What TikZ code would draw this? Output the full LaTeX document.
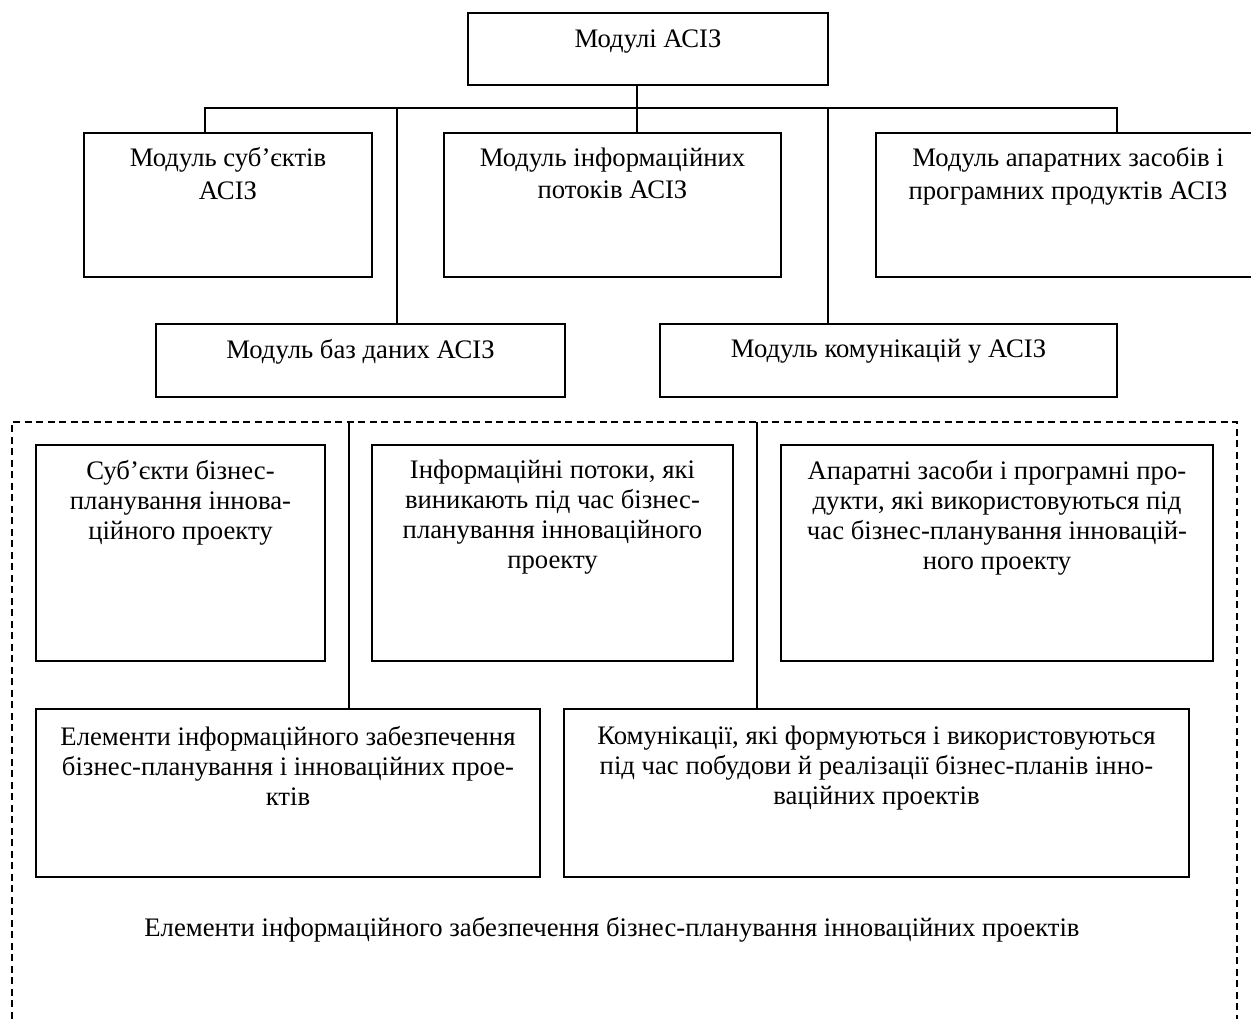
\documentclass[tikz,border=0pt]{standalone}
\usepackage{fontspec}
\setmainfont{Liberation Serif}
\usetikzlibrary{positioning}

\tikzset{
  modbox/.style={draw, rectangle, line width=0.8pt, inner sep=0pt},
  modtext/.style={align=center, inner sep=0pt, font=\fontsize{15.2}{18.5}\selectfont},
  eltext/.style={align=center, inner sep=0pt, font=\fontsize{15.2}{17.1}\selectfont},
  frameline/.style={line width=0.8pt, dash pattern=on 0.14cm off 0.09cm}
}

\begin{document}
\begin{tikzpicture}[x=0.02cm, y=-0.02cm]
      \useasboundingbox (0,0) rectangle (1251,1018);
      \clip (0,0) rectangle (1251,1018);

      % modules
      \node[modbox, minimum width=7.2cm, minimum height=1.44cm] (top) at (648,49) {};
      \node[modbox, minimum width=5.76cm, minimum height=2.88cm] (subj) at (228,205) {};
      \node[modbox, minimum width=6.74cm, minimum height=2.88cm] (info) at (612.5,205) {};
      \node[modbox, minimum width=7.68cm, minimum height=2.88cm] (hw) at (1068,205) {};
      \node[modbox, minimum width=8.18cm, minimum height=1.46cm] (db) at (360.5,360.5) {};
      \node[modbox, minimum width=9.14cm, minimum height=1.46cm] (comm) at (888.5,360.5) {};

      \node[modtext, below=0.34cm of top.north] (topt) {Модулі АСІЗ};
      \node[modtext, below=0.3cm of subj.north] (subjt) {Модуль суб’єктів\\АСІЗ};
      \node[modtext, below=0.3cm of info.north] (infot) {Модуль інформаційних\\потоків АСІЗ};
      \node[modtext, below=0.3cm of hw.north] (hwt) {Модуль апаратних засобів і\\програмних продуктів АСІЗ};
      \node[modtext, below=0.32cm of db.north] (dbt) {Модуль баз даних АСІЗ};
      \node[modtext, below=0.32cm of comm.north] (commt) {Модуль комунікацій у АСІЗ};

      \coordinate (busl) at (205,108);
      \coordinate (busr) at (1117,108);
      \coordinate (stem) at (637,108);
      \coordinate (dbj) at (397,108);
      \coordinate (commj) at (828,108);

      \draw[line width=0.8pt] (busl |- subj.north) -- (busl) -- (busr) -- (busr |- hw.north);
      \draw[line width=0.8pt] (stem |- top.south) -- (stem |- info.north);
      \draw[line width=0.8pt] (dbj) -- (dbj |- db.north);
      \draw[line width=0.8pt] (commj) -- (commj |- comm.north);

      % elements
      \draw[frameline] (12,1030) -- (12,422) -- (1237,422) -- (1237,1030);

      \node[modbox, minimum width=5.78cm, minimum height=4.32cm] (subj2) at (180.5,553) {};
      \node[modbox, minimum width=7.22cm, minimum height=4.32cm] (info2) at (552.5,553) {};
      \node[modbox, minimum width=8.64cm, minimum height=4.32cm] (hw2) at (997,553) {};
      \node[modbox, minimum width=10.08cm, minimum height=3.36cm] (elem) at (288,793) {};
      \node[modbox, minimum width=12.5cm, minimum height=3.36cm] (comm2) at (876.5,793) {};

      \node[eltext, below=0.31cm of subj2.north] (subj2t) {Суб’єкти бізнес-\\планування іннова-\\ційного проекту};
      \node[eltext, below=0.31cm of info2.north] (info2t) {Інформаційні потоки, які\\виникають під час бізнес-\\планування інноваційного\\проекту};
      \node[eltext, below=0.31cm of hw2.north] (hw2t) {Апаратні засоби і програмні про-\\дукти, які використовуються під\\час бізнес-планування інновацій-\\ного проекту};
      \node[eltext, below=0.35cm of elem.north] (elemt) {Елементи інформаційного забезпечення\\бізнес-планування і інноваційних прое-\\ктів};
      \node[eltext, below=0.35cm of comm2.north] (comm2t) {Комунікації, які формуються і використовуються\\під час побудови й реалізації бізнес-планів інно-\\ваційних проектів};

      \coordinate (elj) at (349,422);
      \coordinate (cmj) at (757,422);
      \draw[line width=0.8pt] (elj) -- (elj |- elem.north);
      \draw[line width=0.8pt] (cmj) -- (cmj |- comm2.north);

      \node[eltext, anchor=base] (caption) at (612,936) {Елементи інформаційного забезпечення бізнес-планування інноваційних проектів};
    \end{tikzpicture}
\end{document}
